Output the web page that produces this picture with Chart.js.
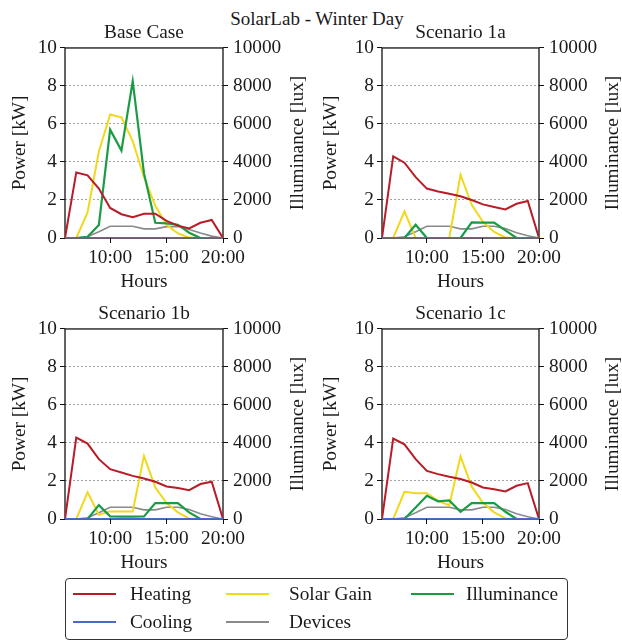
<!DOCTYPE html>
<html><head><meta charset="utf-8">
<script src="https://cdn.jsdelivr.net/npm/chart.js@4.4.0/dist/chart.umd.min.js"></script>
<style>
html,body{margin:0;padding:0;background:#fff;}
body{width:622px;height:642px;position:relative;overflow:hidden;font-family:'Liberation Serif','Times New Roman',serif;color:#1a1a1a;}
.panel{position:absolute;width:311px;height:282px;}
#suptitle{position:absolute;left:6px;width:622px;top:9px;text-align:center;font-size:19px;line-height:19px;}
#legend{position:absolute;left:65px;top:578px;width:503px;height:62px;border:1.3px solid #333;border-radius:4px;box-sizing:border-box;}
.li{position:absolute;font-size:19.3px;line-height:19px;white-space:nowrap;}
.ls{position:absolute;height:0;border-top:2px solid;}
</style></head>
<body>
<div id="suptitle">SolarLab - Winter Day</div>
<div class="panel" style="left:0;top:18px"><canvas id="c0" width="311" height="282"></canvas></div>
<div class="panel" style="left:311px;top:18px"><canvas id="c1" width="311" height="282"></canvas></div>
<div class="panel" style="left:0;top:299px"><canvas id="c2" width="311" height="282"></canvas></div>
<div class="panel" style="left:311px;top:299px"><canvas id="c3" width="311" height="282"></canvas></div>
<div id="legend"></div>
<script>
// ---- data ----
const hours = [6, 7, 8, 9, 10, 11, 12, 13, 14, 15, 16, 17, 18, 19, 20];
const xTickHours = [10, 15, 20];
const panelTitles = ['Base Case', 'Scenario 1a', 'Scenario 1b', 'Scenario 1c'];
const seriesNames = ['Heating', 'Cooling', 'Solar Gain', 'Devices', 'Illuminance'];

// Power [kW]
const heatingBase = [0, 3.45, 3.3, 2.6, 1.58, 1.25, 1.1, 1.28, 1.28, 0.9, 0.65, 0.5, 0.8, 0.95, 0];
const coolingBase = [0, 0, 0, 0, 0, 0, 0, 0, 0, 0, 0, 0, 0, 0, 0];
const solarBase = [0, 0, 1.35, 4.55, 6.5, 6.35, 5.1, 3.2, 1.7, 0.7, 0.25, 0.02, 0, 0, 0];
const devicesBase = [0, 0, 0.07, 0.33, 0.62, 0.62, 0.62, 0.48, 0.48, 0.6, 0.6, 0.45, 0.26, 0.1, 0];
// Illuminance [lux]
const illumBase = [0, 0, 60, 680, 5700, 4600, 8250, 3400, 800, 770, 700, 280, 0, 0, 0];

const heating1a = [0, 4.3, 3.96, 3.2, 2.6, 2.45, 2.33, 2.2, 2.0, 1.77, 1.63, 1.5, 1.8, 1.95, 0];
const cooling1a = [0, 0, 0, 0, 0, 0, 0, 0, 0, 0, 0, 0, 0, 0, 0];
const solar1a = [0, 0, 1.4, 0, 0, 0, 0, 3.33, 1.75, 0.85, 0.32, 0.03, 0, 0, 0];
const devices1a = [0, 0, 0.07, 0.33, 0.62, 0.62, 0.62, 0.48, 0.48, 0.62, 0.62, 0.5, 0.28, 0.12, 0];
const illum1a = [0, 0, 0, 700, 0, 0, 0, 0, 820, 810, 810, 400, 0, 0, 0];

const heating1b = [0, 4.28, 3.97, 3.15, 2.62, 2.45, 2.27, 2.13, 1.96, 1.71, 1.63, 1.52, 1.84, 1.96, 0];
const cooling1b = [0, 0, 0, 0, 0, 0, 0, 0, 0, 0, 0, 0, 0, 0, 0];
const solar1b = [0, 0, 1.4, 0.22, 0.4, 0.4, 0.4, 3.32, 1.66, 0.84, 0.35, 0.03, 0, 0, 0];
const devices1b = [0, 0, 0.07, 0.33, 0.62, 0.62, 0.62, 0.48, 0.48, 0.62, 0.62, 0.5, 0.28, 0.12, 0];
const illum1b = [0, 0, 0, 730, 140, 120, 120, 140, 840, 840, 840, 350, 0, 0, 0];

const heating1c = [0, 4.23, 3.93, 3.15, 2.53, 2.36, 2.22, 2.1, 1.92, 1.66, 1.57, 1.45, 1.75, 1.89, 0];
const cooling1c = [0, 0, 0, 0, 0, 0, 0, 0, 0, 0, 0, 0, 0, 0, 0];
const solar1c = [0, 0, 1.43, 1.36, 1.36, 0.95, 0.72, 3.3, 1.7, 0.85, 0.35, 0.03, 0, 0, 0];
const devices1c = [0, 0, 0.07, 0.33, 0.62, 0.62, 0.62, 0.48, 0.48, 0.62, 0.62, 0.5, 0.28, 0.12, 0];
const illum1c = [0, 0, 0, 600, 1220, 930, 980, 380, 840, 840, 840, 380, 0, 0, 0];

const panelSeries = [
  [heatingBase, coolingBase, solarBase, devicesBase, illumBase],
  [heating1a, cooling1a, solar1a, devices1a, illum1a],
  [heating1b, cooling1b, solar1b, devices1b, illum1b],
  [heating1c, cooling1c, solar1c, devices1c, illum1c]
];

// ---- styling ----
const FONT = "'Liberation Serif', 'Times New Roman', serif";
const FS = 19.3;
const TXT = '#1a1a1a';
const colors = ['#b81c26', '#4a6cc8', '#f2d81c', '#8a8a8a', '#1a9c45'];
const widths = [2, 2, 2, 1.6, 2.2];
const drawOrder = [1, 0, 3, 4, 2]; // lower = on top
const leftW = [65, 71, 65, 71];
const rightW = [88, 83, 88, 83];

const framePlugin = {
  id: 'frame',
  beforeDatasetsDraw(chart) {
    const {ctx, chartArea: a} = chart;
    ctx.save();
    ctx.strokeStyle = '#111';
    ctx.lineWidth = 1.3;
    ctx.strokeRect(a.left, a.top, a.right - a.left, a.bottom - a.top);
    ctx.restore();
  },
  afterDraw(chart, args, opts) {
    const {ctx, chartArea: a} = chart;
    ctx.save();
    ctx.font = FS + 'px ' + FONT;
    ctx.fillStyle = TXT;
    ctx.textAlign = 'center';
    ctx.textBaseline = 'middle';
    ctx.translate(a.right + opts.offset, (a.top + a.bottom) / 2);
    ctx.rotate(-Math.PI / 2);
    ctx.fillText(opts.text, 0, 0);
    ctx.restore();
  }
};

function makePanel(i) {
  const series = panelSeries[i];
  const datasets = series.map((vals, k) => ({
    label: seriesNames[k],
    data: hours.map((h, j) => ({x: h, y: vals[j]})),
    borderColor: colors[k],
    backgroundColor: colors[k],
    borderWidth: widths[k],
    pointRadius: 0,
    tension: 0,
    fill: false,
    order: drawOrder[k],
    yAxisID: k === 4 ? 'y1' : 'y'
  }));
  new Chart(document.getElementById('c' + i), {
    type: 'line',
    data: {datasets},
    plugins: [framePlugin],
    options: {
      responsive: false,
      animation: false,
      devicePixelRatio: 1,
      layout: {padding: 0},
      plugins: {
        legend: {display: false},
        tooltip: {enabled: false},
        title: {
          display: true, text: panelTitles[i], fullSize: false,
          color: TXT, font: {family: FONT, size: FS, weight: 'normal', lineHeight: 1.2},
          padding: {top: 3.4, bottom: 3.4}
        },
        frame: {text: 'Illuminance [lux]', offset: i % 2 === 0 ? 75 : 74}
      },
      scales: {
        x: {
          type: 'linear', min: 6, max: 20,
          afterBuildTicks: s => { s.ticks = xTickHours.map(v => ({value: v})); },
          afterFit: s => { s.height = 62; },
          ticks: {autoSkip: false, maxRotation: 0, padding: 3, color: TXT,
                  font: {family: FONT, size: FS}, callback: v => v + ':00'},
          grid: {drawOnChartArea: false, drawTicks: true, tickLength: 5, tickColor: '#111', tickWidth: 1},
          border: {display: false},
          title: {display: true, text: 'Hours', color: TXT, font: {family: FONT, size: FS, lineHeight: 1.2},
                  padding: {top: 0, bottom: 6.4}}
        },
        y: {
          position: 'left', min: 0, max: 10,
          afterFit: s => { s.width = leftW[i]; },
          ticks: {stepSize: 2, padding: 3, color: TXT, font: {family: FONT, size: FS}, callback: v => String(v)},
          grid: {
            color: c => (c.tick && (c.tick.value === 0 || c.tick.value === 10)) ? 'rgba(0,0,0,0)' : '#9a9a9a',
            lineWidth: 0.9, tickLength: 5, tickColor: '#111', tickWidth: 1
          },
          border: {display: false, dash: [2, 2]},
          title: {display: true, text: 'Power [kW]', color: TXT, font: {family: FONT, size: FS, lineHeight: 1.2},
                  padding: {top: 8.4, bottom: 0}}
        },
        y1: {
          position: 'right', min: 0, max: 10000,
          afterFit: s => { s.width = rightW[i]; },
          ticks: {stepSize: 2000, padding: 5, color: TXT, font: {family: FONT, size: FS}, callback: v => String(v)},
          grid: {drawOnChartArea: false, tickLength: 5, tickColor: '#111', tickWidth: 1},
          border: {display: false}
        }
      }
    }
  });
}
for (let i = 0; i < 4; i++) makePanel(i);

// ---- legend (HTML) ----
const legendPos = [
  {line: 7, text: 64, row: 0},   // Heating
  {line: 7, text: 64, row: 1},   // Cooling
  {line: 160, text: 223, row: 0},// Solar Gain
  {line: 160, text: 223, row: 1},// Devices
  {line: 345, text: 400, row: 0} // Illuminance
];
const lg = document.getElementById('legend');
seriesNames.forEach((name, k) => {
  const p = legendPos[k];
  const cy = p.row === 0 ? 15 : 43;
  const ln = document.createElement('div');
  ln.className = 'ls';
  ln.style.left = p.line + 'px';
  ln.style.width = '43px';
  ln.style.top = (cy - 1) + 'px';
  ln.style.borderTopColor = colors[k];
  lg.appendChild(ln);
  const t = document.createElement('div');
  t.className = 'li';
  t.style.left = p.text + 'px';
  t.style.top = (cy - 10) + 'px';
  t.textContent = name;
  lg.appendChild(t);
});
</script>
</body></html>
